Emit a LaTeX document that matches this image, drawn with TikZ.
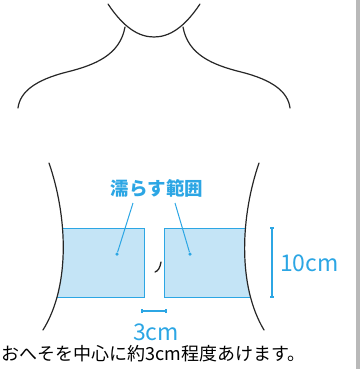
\documentclass[tikz,border=0pt]{standalone}
\usepackage{fontspec}
\newfontfamily\jp{Noto Sans CJK JP}
\definecolor{areablue}{HTML}{C4E4F6}
\definecolor{lineblue}{HTML}{2CA6E4}
\tikzset{
  body/.style={draw=black!85, line width=1.2pt, line cap=round},
  patch/.style={fill=areablue, draw=lineblue, line width=1pt},
  leader/.style={draw=lineblue, line width=1pt},
  dimline/.style={draw=lineblue, line width=1.4pt},
  bluetext/.style={text=lineblue, font=\jp, inner sep=0pt},
  note/.style={text=black, font=\jp\fontsize{18}{19}\selectfont, inner sep=0pt}
}
\begin{document}
\begin{tikzpicture}[x=1pt,y=-1pt]
\useasboundingbox (0,0) rectangle (361,369);
% page edge rule
\fill[gray!55] (356,0) rectangle (360,369);

% neck and shoulders
\draw[body] (108,4) .. controls (124,28) and (139,37) .. (154,37)
                    .. controls (169,37) and (184,28) .. (200,4);
\draw[body] (125,27) .. controls (120,55) and (95,65) .. (67,72)
                     .. controls (35,80) and (20,92) .. (18,108);
\draw[body] (183,27) .. controls (188,55) and (213,65) .. (241,72)
                     .. controls (273,80) and (288,92) .. (290,108);

% wet areas, clipped to the waist
\begin{scope}
  \clip (49,163) .. controls (67,215) and (71,285) .. (43,330)
        -- (264,330) .. controls (237,285) and (241,215) .. (259,163) -- cycle;
  \path[patch] (40,228) rectangle (144,297);
  \path[patch] (164,228) rectangle (270,297);
\end{scope}

% waist
\draw[body] (49,163) .. controls (67,215) and (71,285) .. (43,330);
\draw[body] (259,163) .. controls (241,215) and (237,285) .. (264,330);

% navel
\draw[black!85, line width=1.3pt, line cap=round]
  (161,262) .. controls (160,268) and (158,271) .. (155,272);

% label and leaders
\node[bluetext, font=\jp\bfseries\fontsize{18.5}{20}\selectfont] (lbl) at (157,188) {濡らす範囲};
\coordinate (lA) at (133,203);
\coordinate (lB) at (175,203);
\node[circle, fill=lineblue, inner sep=0pt, minimum size=3.5pt] (dA) at (117,254) {};
\node[circle, fill=lineblue, inner sep=0pt, minimum size=3.5pt] (dB) at (190,254) {};
\draw[leader] (dA) -- (lA);
\draw[leader] (dB) -- (lB);

% 10 cm height
\coordinate (hT) at (272,228);
\coordinate (hB) at (272,297);
\draw[dimline] (hT) -- (hB);
\draw[dimline] ([xshift=-2pt]hT) -- ([xshift=2pt]hT);
\draw[dimline] ([xshift=-2pt]hB) -- ([xshift=2pt]hB);
\node[bluetext, font=\jp\fontsize{23}{25}\selectfont, anchor=west] (h) at (280,263) {10cm};

% 3 cm gap
\coordinate (gL) at (142,311);
\coordinate (gR) at (166,311);
\draw[dimline, line width=1.2pt] (gL) -- (gR);
\draw[dimline, line width=1.2pt] ([yshift=-2pt]gL) -- ([yshift=2pt]gL);
\draw[dimline, line width=1.2pt] ([yshift=-2pt]gR) -- ([yshift=2pt]gR);
\node[bluetext, font=\jp\fontsize{23}{25}\selectfont] (g) at (156,332) {3cm};

% caption
\node[note, anchor=west] (cap) at (1.5,353.5) {おへそを中心に約3cm程度あけます。};
\end{tikzpicture}
\end{document}
